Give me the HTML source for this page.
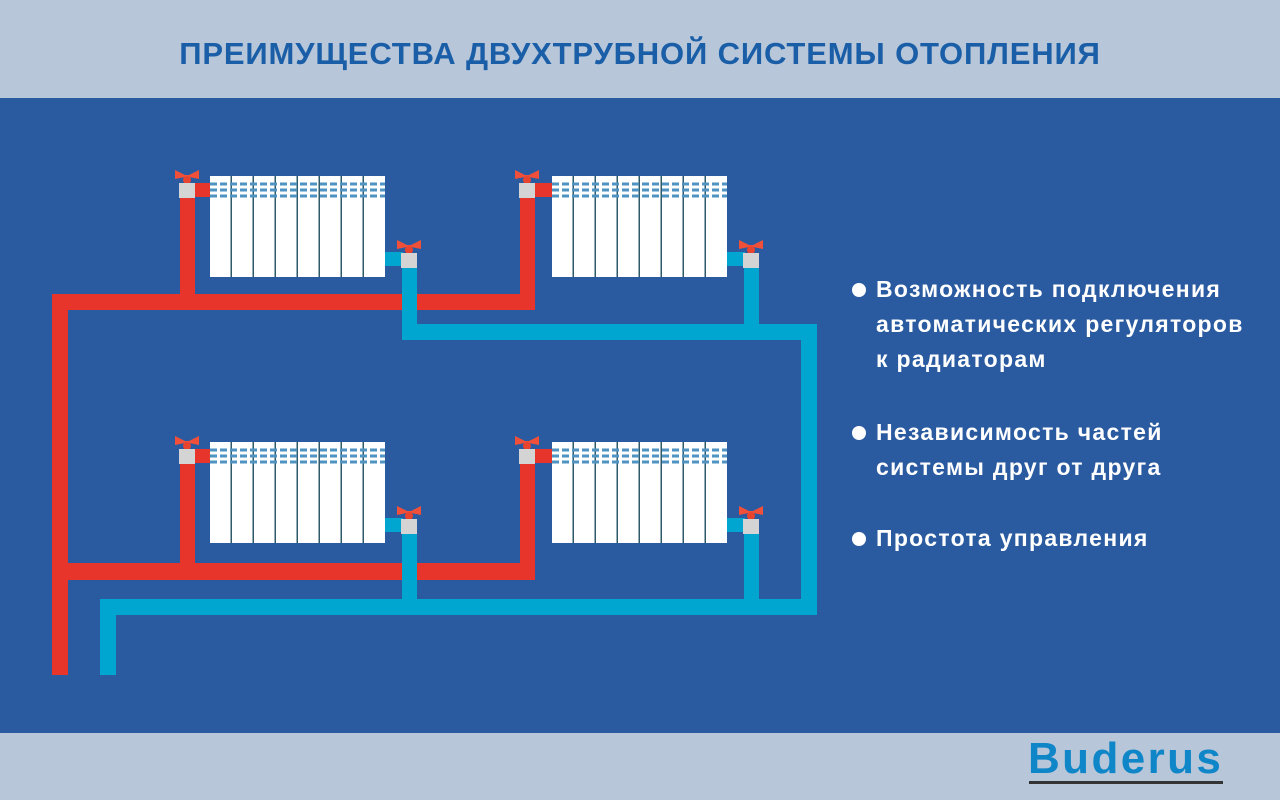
<!DOCTYPE html>
<html><head><meta charset="utf-8"><style>
body{margin:0;width:1280px;height:800px;overflow:hidden;font-family:"Liberation Sans",sans-serif}
.t{position:absolute;color:#fff;font-weight:bold;font-size:23px;line-height:35px;letter-spacing:1.3px}
</style></head><body>
<div style="position:relative;width:1280px;height:800px;background:#2a5ba0">
<div style="position:absolute;left:0;top:0;width:1280px;height:98px;background:#b7c6d9;text-align:center;line-height:108px;color:#1a5ea8;font-weight:bold;font-size:31px;letter-spacing:0.85px">ПРЕИМУЩЕСТВА ДВУХТРУБНОЙ СИСТЕМЫ ОТОПЛЕНИЯ</div>
<div style="position:absolute;left:0;top:733px;width:1280px;height:67px;background:#b7c6d9"></div>
<div style="position:absolute;left:1028px;top:734px;color:#0f86c8;font-weight:900;font-size:44px;letter-spacing:2.4px;font-family:'Liberation Sans',sans-serif">Buderus</div>
<div style="position:absolute;left:1029px;top:781px;width:194px;height:3px;background:#333"></div>
<svg width="1280" height="800" style="position:absolute;left:0;top:0">
<defs>
<g id="rad">
<rect x="0" y="0" width="175" height="101" fill="#2e5a6a"/>
<g fill="#fff">
<rect x="0" y="0" width="20.5" height="101"/><rect x="22" y="0" width="20.5" height="101"/><rect x="44" y="0" width="20.5" height="101"/><rect x="66" y="0" width="20.5" height="101"/><rect x="88" y="0" width="20.5" height="101"/><rect x="110" y="0" width="20.5" height="101"/><rect x="132" y="0" width="20.5" height="101"/><rect x="154" y="0" width="21" height="101"/>
</g>
<g stroke="#4f93c2" stroke-width="3" stroke-dasharray="7 3">
<line x1="0" y1="8" x2="175" y2="8"/><line x1="0" y1="14" x2="175" y2="14"/><line x1="0" y1="20" x2="175" y2="20"/>
</g>
</g>
<g id="valve">
<path d="M-12,-13 L-2,-8 L2,-8 L12,-13 L12,-4 L2,-6 L-2,-6 L-12,-4 Z" fill="#f0503a"/>
<circle cx="0" cy="-3" r="4" fill="#e8432f"/>
<rect x="-8" y="0" width="16" height="15" fill="#d4d4d4"/>
</g>
</defs>
<g fill="#e7352b">
<rect x="52" y="294" width="16" height="381"/>
<rect x="52" y="294" width="483" height="16"/>
<rect x="180" y="190" width="15" height="110"/>
<rect x="520" y="190" width="15" height="120"/>
<rect x="192" y="183" width="20" height="14"/>
<rect x="532" y="183" width="20" height="14"/>
<rect x="52" y="563" width="483" height="17"/>
<rect x="180" y="455" width="15" height="115"/>
<rect x="520" y="455" width="15" height="125"/>
<rect x="192" y="449" width="20" height="14"/>
<rect x="532" y="449" width="20" height="14"/>
</g>
<g fill="#00a6d0">
<rect x="402" y="260" width="15" height="80"/>
<rect x="402" y="324" width="415" height="16"/>
<rect x="801" y="324" width="16" height="291"/>
<rect x="744" y="260" width="15" height="70"/>
<rect x="383" y="252" width="20" height="14"/>
<rect x="725" y="252" width="20" height="14"/>
<rect x="100" y="599" width="717" height="16"/>
<rect x="100" y="599" width="16" height="76"/>
<rect x="402" y="525" width="15" height="80"/>
<rect x="744" y="525" width="15" height="80"/>
<rect x="383" y="518" width="20" height="14"/>
<rect x="725" y="518" width="20" height="14"/>
</g>
<use href="#rad" x="210" y="176"/><use href="#rad" x="552" y="176"/>
<use href="#rad" x="210" y="442"/><use href="#rad" x="552" y="442"/>
<use href="#valve" x="187" y="183"/><use href="#valve" x="527" y="183"/>
<use href="#valve" x="409" y="253"/><use href="#valve" x="751" y="253"/>
<use href="#valve" x="187" y="449"/><use href="#valve" x="527" y="449"/>
<use href="#valve" x="409" y="519"/><use href="#valve" x="751" y="519"/>
<g fill="#fff"><circle cx="859" cy="290" r="7"/><circle cx="859" cy="433" r="7"/><circle cx="859" cy="539" r="7"/></g>
</svg>
<div class="t" style="left:876px;top:272px">Возможность подключения<br>автоматических регуляторов<br>к радиаторам</div>
<div class="t" style="left:876px;top:415px">Независимость частей<br>системы друг от друга</div>
<div class="t" style="left:876px;top:521px">Простота управления</div>
</div>
</body></html>
